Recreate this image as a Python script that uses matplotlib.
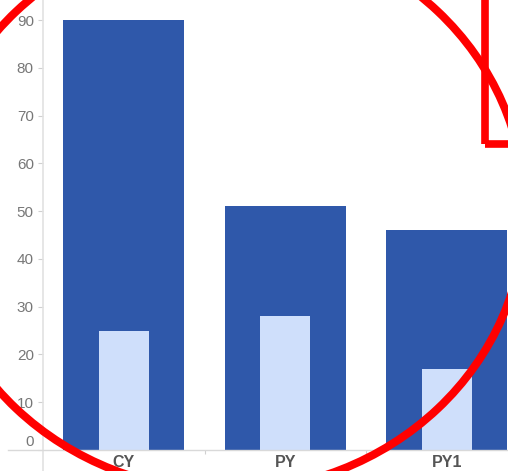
import matplotlib
matplotlib.use("Agg")
import matplotlib.pyplot as plt
import matplotlib.transforms as mtransforms
from matplotlib.patches import Ellipse, Rectangle
from matplotlib.lines import Line2D

plt.rcParams['font.family'] = ['Liberation Sans', 'DejaVu Sans']

# Data
categories = ["CY", "PY", "PY1"]
totals = [90, 51, 46]
subset = [25, 28, 17]
y_ticks = [0, 10, 20, 30, 40, 50, 60, 70, 80, 90]

W, H = 508, 471
fig = plt.figure(figsize=(W / 100, H / 100), dpi=100)

# Plot area: left edge at x=43px, zero line at y=450px
ax_left, ax_base = 43, 450
px_per_cat = 161.5
px_per_unit = 430 / 90
x_hi = (W - ax_left) / px_per_cat - 0.5
y_hi = ax_base / px_per_unit
ax = fig.add_axes([ax_left / W, 1 - ax_base / H, (W - ax_left) / W, ax_base / H])

x = list(range(len(categories)))
ax.bar(x, totals, width=0.75, color="#2f58aa", zorder=2)
ax.bar(x, subset, width=0.31, color="#cfdffb", zorder=3)

ax.set_xlim(-0.5, x_hi)
ax.set_ylim(0, y_hi)

for s in ax.spines.values():
    s.set_visible(False)

ax.set_yticks(y_ticks)
ax.set_yticklabels([str(v) for v in y_ticks])
ax.tick_params(axis='y', length=3.6, width=0.8, color="#d0d0d0", pad=3,
               labelsize=11, labelcolor="#777777")
# the zero label sits just above the baseline
zero_lbl = ax.get_yticklabels()[0]
zero_lbl.set_transform(zero_lbl.get_transform() +
                       mtransforms.ScaledTranslation(0, 10 / 100, fig.dpi_scale_trans))

ax.set_xticks(x)
ax.set_xticklabels(categories, fontweight='bold')
ax.tick_params(axis='x', which='major', length=0, pad=3.5,
               labelsize=11.5, labelcolor="#555555")
ax.set_xticks([0.5, 1.5], minor=True)
ax.tick_params(axis='x', which='minor', length=3, width=0.8, color="#d0d0d0")

# Axis lines
fig.add_artist(Line2D([ax_left / W, ax_left / W], [0, 1], transform=fig.transFigure,
                      color="#e2e2e2", lw=1.2, zorder=1))
fig.add_artist(Line2D([8 / W, 1], [1 - ax_base / H, 1 - ax_base / H], transform=fig.transFigure,
                      color="#d9d9d9", lw=1.0, zorder=1))

# Red highlight marks
fig.add_artist(Ellipse((227 / W, 1 - 210 / H), 596 / W, 562 / H, transform=fig.transFigure,
                       fill=False, edgecolor="#ff0000", lw=5.8, zorder=5))
fig.add_artist(Rectangle((484.5 / W, 1 - 144 / H), 0.3, 0.6, transform=fig.transFigure,
                         fill=False, edgecolor="#ff0000", lw=5.5, zorder=5, clip_on=False))

fig.savefig("out.png", dpi=100)
